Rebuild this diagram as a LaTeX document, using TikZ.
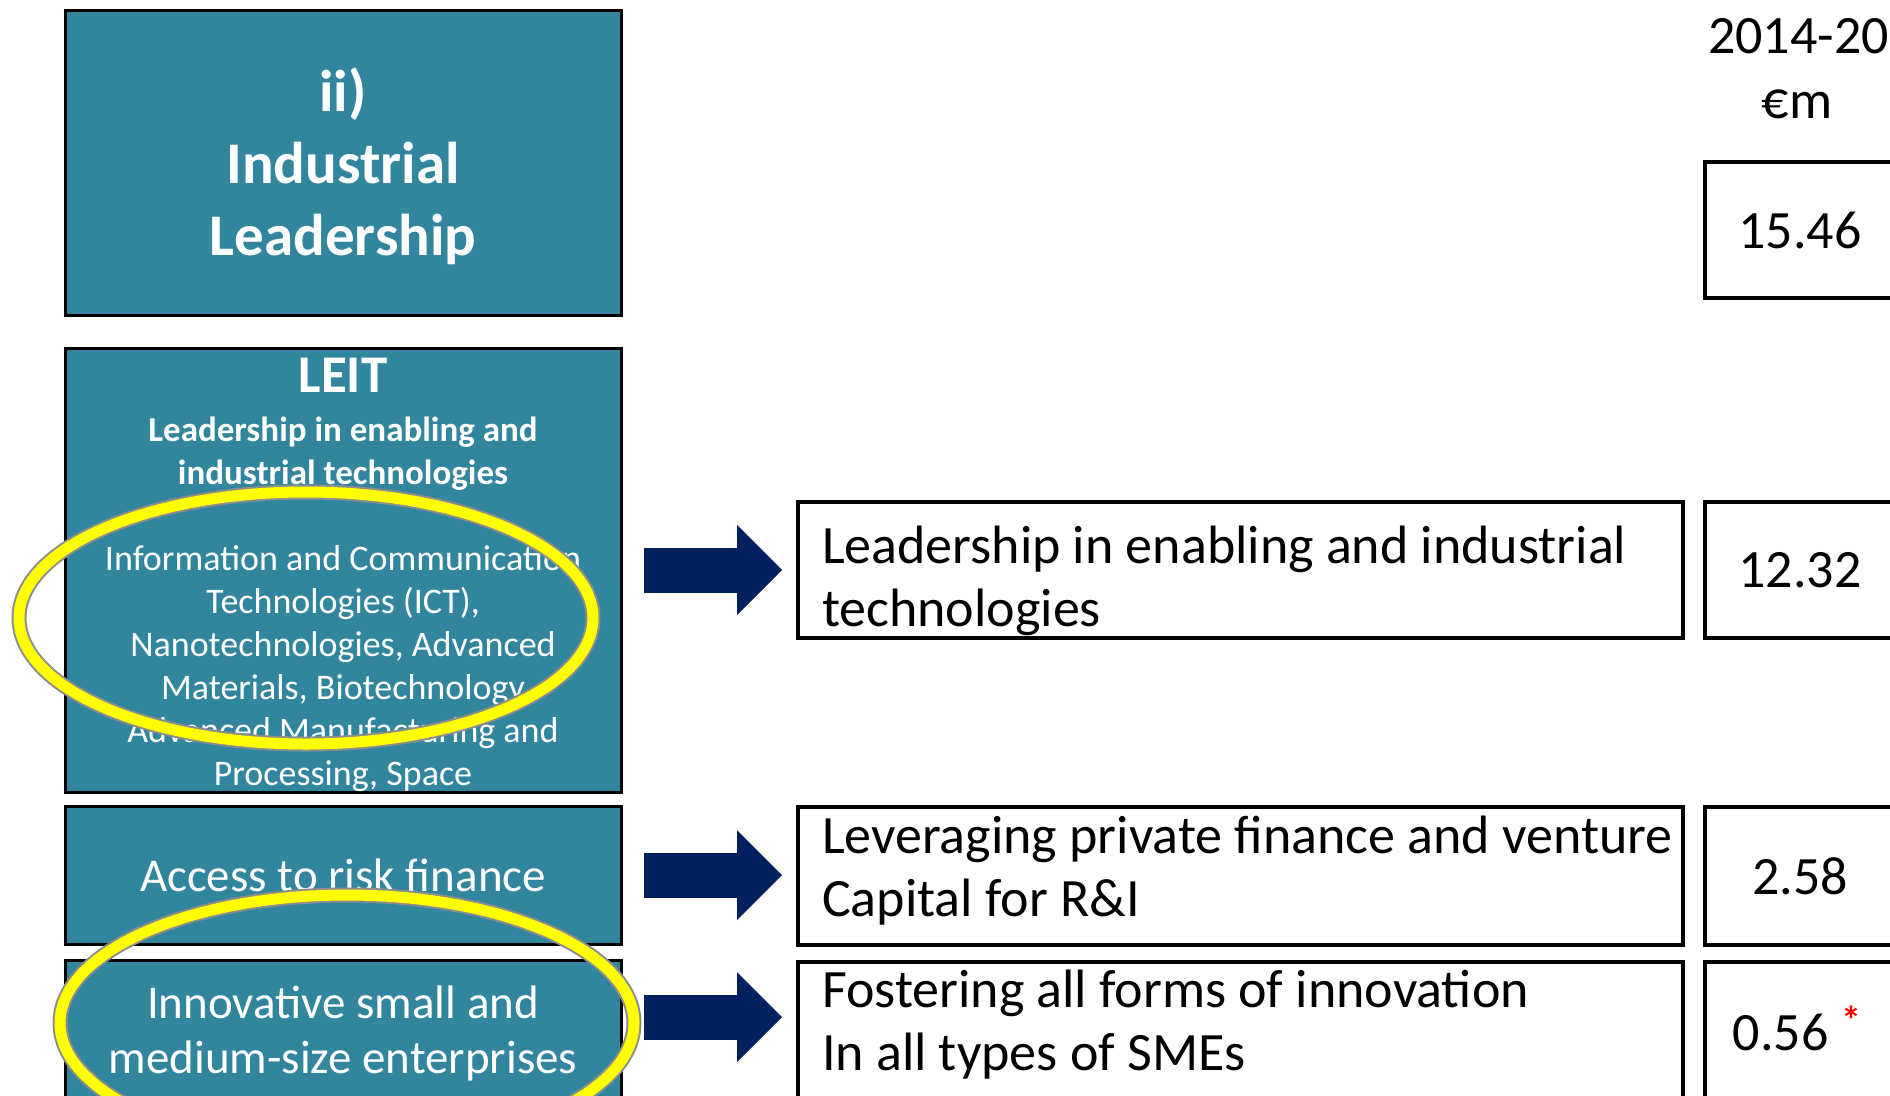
\documentclass[tikz,border=0pt]{standalone}
\usepackage{fontspec}
\setmainfont{Carlito}
\usepackage{tikz}
\usepackage{xcolor}
\usetikzlibrary{arrows.meta, positioning}
\definecolor{pillar}{HTML}{31859C}
\definecolor{navy}{HTML}{002060}
\definecolor{marker}{HTML}{FFFF00}

\begin{document}
\begin{tikzpicture}[x=1pt, y=-1pt,
        box/.style={draw=black, line width=3pt, fill=pillar, text=white, inner sep=0pt, outer sep=0pt, align=center, minimum width=556pt},
        frame/.style={draw=black, line width=3.5pt, inner sep=0pt, outer sep=0pt},
        txt/.style={inner sep=0pt, outer sep=0pt},
        big/.style={font=\fontsize{54}{63}\selectfont},
        bigarrow/.style={draw=navy, line width=45pt, -{Triangle[length=45pt, width=90pt, line width=0pt]}, shorten <=23pt, shorten >=16pt},
        halo/.style={draw=marker, line width=11pt, preaction={draw=black!45, line width=15pt}}]
                                \useasboundingbox (0,0) rectangle (1890,1095);
                                \clip (0,0) rectangle (1890,1095);

                                \node[box, minimum height=305pt] (pillar) at (343,162.5) {};
                                \node[txt, text=white, align=center, font=\bfseries\fontsize{59}{72}\selectfont] (pillartext) at (343,166) {ii)\\Industrial\\Leadership};
                                \node[box, minimum height=444pt] (leit) at (343,570) {};
                                \node[txt, text=white, anchor=base, font=\bfseries\fontsize{53}{60}\selectfont] (leittitle) at (343,392) {LEIT};
                                \node[txt, text=white, align=center, font=\bfseries\fontsize{35}{43}\selectfont] (leitsub) at (343,454) {Leadership in enabling and\\industrial technologies};
                                \node[txt, text=white, align=center, font=\fontsize{36}{43}\selectfont] (leitareas) at (343,669) {Information and Communication\\Technologies (ICT),\\Nanotechnologies, Advanced\\Materials, Biotechnology\\Advanced Manufacturing and\\Processing, Space};
                                \node[box, minimum height=138pt, font=\fontsize{47}{55}\selectfont] (risk) at (343,875) {Access to risk finance};
                                \node[box, minimum height=204pt] (sme) at (343,1062) {};
                                \node[txt, text=white, align=center, font=\fontsize{47}{55}\selectfont] (smetext) at (343,1033.5) {Innovative small and\\medium-size enterprises};

                                \node[frame, minimum width=885pt, minimum height=136pt] (leitname) at (1240.5,570) {};
                                \node[txt, big, align=left, anchor=west] (leitnametext) at (822,581) {Leadership in enabling and industrial\\technologies};
                                \node[frame, minimum width=885pt, minimum height=138pt] (riskname) at (1240.5,876) {};
                                \node[txt, big, align=left, anchor=west] (risknametext) at (822,870.5) {Leveraging private finance and venture\\Capital for R\&I};
                                \node[frame, minimum width=885pt, minimum height=200pt] (smename) at (1240.5,1062) {};
                                \node[txt, big, align=left, anchor=west] (smenametext) at (822,1024.5) {Fostering all forms of innovation\\In all types of SMEs};

                                \node[txt, big, anchor=base west] (period) at (1708,53) {2014-20};
                                \node[txt, big, anchor=base] (unit) at (1797,118) {€m};
                                \node[frame, big, minimum width=190pt, minimum height=136pt] (total) at (1800,230) {15.46};
                                \node[frame, big, minimum width=190pt, minimum height=136pt] (leitsum) at (1800,570) {12.32};
                                \node[frame, big, minimum width=190pt, minimum height=138pt] (risksum) at (1800,876) {2.58};
                                \node[frame, minimum width=190pt, minimum height=200pt] (smesum) at (1800,1062) {};
                                \node[txt, big] (smeval) at (1797,1028) {0.56\hspace{13pt}\raisebox{16pt}{\fontsize{40}{40}\selectfont\bfseries\color{red}*}};

                                \coordinate (smestart) at ([yshift=45pt]sme.east);
                                \draw[bigarrow] (leit.east) -- (leit.east -| leitname.west);
                                \draw[bigarrow] (risk.east) -- (risk.east -| riskname.west);
                                \draw[bigarrow] (smestart) -- (smestart -| smename.west);

                                \draw[halo] (306,618) ellipse [x radius=287, y radius=126];
                                \draw[halo] (347,1023) ellipse [x radius=287, y radius=128];
                            \end{tikzpicture}
\end{document}
